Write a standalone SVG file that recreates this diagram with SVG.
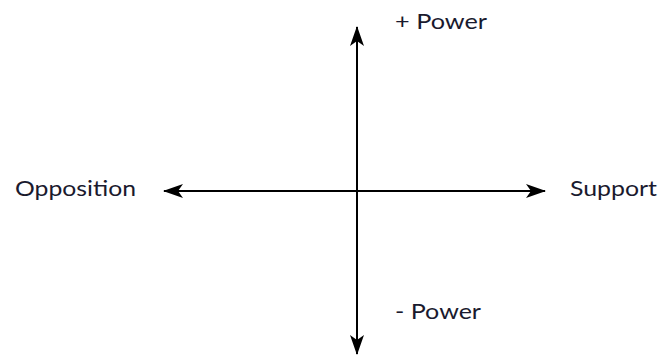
<svg xmlns="http://www.w3.org/2000/svg" width="665" height="359" viewBox="0 0 665 359">
<style>
text{font-family:Lato,"Open Sans",sans-serif;font-size:22px;fill:#1a1a2e}
.ax{stroke:#000;stroke-width:2;fill:none}
</style>
<defs>
<marker id="ah" viewBox="0 0 20 14" refX="19" refY="7" markerWidth="20" markerHeight="14" markerUnits="userSpaceOnUse" orient="auto-start-reverse">
<path d="M0,0 L20,7 L0,14 L5,7 Z" fill="#000"/>
</marker>
</defs>
<rect width="665" height="359" fill="#fff"/>
<g id="connectors">
<line class="ax" x1="357" y1="27" x2="357" y2="354" marker-start="url(#ah)" marker-end="url(#ah)"/>
<line class="ax" x1="164" y1="191" x2="545" y2="191" marker-start="url(#ah)" marker-end="url(#ah)"/>
</g>
<g id="plus-power"><text x="395" y="29" textLength="92" lengthAdjust="spacingAndGlyphs">+ Power</text></g>
<g id="opposition"><text x="15" y="196" textLength="121" lengthAdjust="spacingAndGlyphs">Opposition</text></g>
<g id="support"><text x="570" y="196" textLength="87" lengthAdjust="spacingAndGlyphs">Support</text></g>
<g id="minus-power"><text x="395" y="319" textLength="86" lengthAdjust="spacingAndGlyphs">- Power</text></g>
</svg>
